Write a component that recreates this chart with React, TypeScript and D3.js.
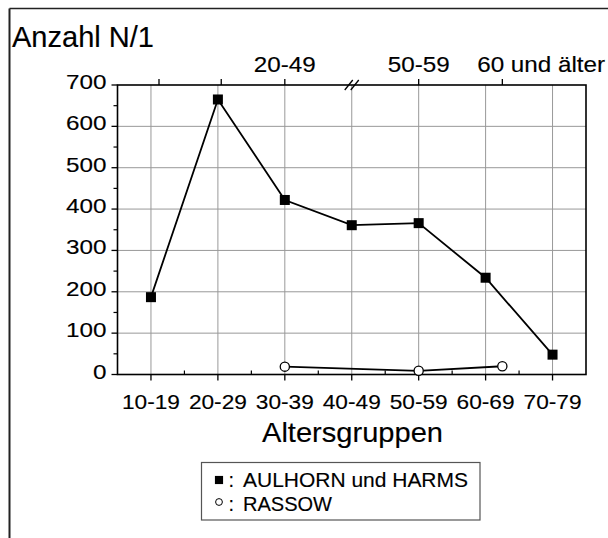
import * as d3 from "d3";

// Altersgruppen (untere Achse)
const categories = ["10-19", "20-29", "30-39", "40-49", "50-59", "60-69", "70-79"];
const aulhornHarms = [187, 665, 422, 361, 366, 234, 48];

// RASSOW liegt auf der oberen Achse (20-49, 50-59, 60 und älter)
const rassowAt = [2, 4, 5.25];
const rassowValues = [19, 9, 20];

const yTicks = [0, 100, 200, 300, 400, 500, 600, 700];
const yMinorTicks = [50, 150, 250, 350, 450, 550, 650];
const yGrid = [100, 200, 300, 400, 500, 600];

const topTicksAt = [0.12, 1.05, 2, 4, 5.25];
const topLabels = ["20-49", "50-59", "60 und älter"];
const topLabelsAt = [2, 4, 5.83];

const FONT = "'Liberation Sans', Arial, Helvetica, sans-serif";
const TEXT_STROKE = 0.15;

const App = () => {
  const left = 117.5;
  const right = 586;
  const top = 85;
  const bottom = 374.5;

  const x = d3.scaleLinear().domain([-0.5, 6.5]).range([left, right]);
  const y = d3.scaleLinear().domain([0, 700]).range([bottom, top]);

  const ahPoints = aulhornHarms.map((v, i) => [x(i), y(v)] as [number, number]);
  const raPoints = rassowValues.map((v, i) => [x(rassowAt[i]), y(v)] as [number, number]);
  const line = d3.line();

  const breakX = x(3);

  return (
    <svg
      width={608}
      height={538}
      style={{ position: "absolute", left: 0, top: 0, background: "#fff" }}
      fontFamily={FONT}
    >
      {/* outer frame (partly outside the picture) */}
      <line x1={9.5} y1={8.5} x2={608} y2={8.5} stroke="#222" strokeWidth={1.5} />
      <line x1={9.5} y1={8.5} x2={9.5} y2={538} stroke="#222" strokeWidth={2} />

      <text x={12} y={47} fontSize={30} textLength={142} lengthAdjust="spacingAndGlyphs" stroke="#000" strokeWidth={TEXT_STROKE}>
        Anzahl N/1
      </text>

      {/* grid */}
      {categories.map((c, i) => (
        <line key={"gx" + c} x1={x(i)} x2={x(i)} y1={top} y2={bottom} stroke="#999" strokeWidth={1} />
      ))}
      {yGrid.map((t) => (
        <line key={"gy" + t} x1={left} x2={right} y1={y(t)} y2={y(t)} stroke="#999" strokeWidth={1} />
      ))}

      {/* left axis */}
      {yTicks.map((t) => (
        <g key={"yt" + t}>
          <line x1={left - 6} x2={left} y1={y(t)} y2={y(t)} stroke="#000" strokeWidth={1.3} />
          <text
            x={106.5 - 13.5 * String(t).length}
            y={y(t) + 4}
            fontSize={21}
            textLength={13.5 * String(t).length}
            lengthAdjust="spacingAndGlyphs"
            stroke="#000"
            strokeWidth={TEXT_STROKE}
          >
            {t}
          </text>
        </g>
      ))}
      {yMinorTicks.map((t) => (
        <line key={"ym" + t} x1={left - 4} x2={left} y1={y(t)} y2={y(t)} stroke="#000" strokeWidth={1.2} />
      ))}

      {/* bottom axis */}
      {categories.map((c, i) => (
        <g key={"xt" + c}>
          <line x1={x(i)} x2={x(i)} y1={bottom} y2={bottom + 6} stroke="#000" strokeWidth={1.3} />
          <text
            x={x(i) - 29}
            y={409}
            fontSize={21}
            textLength={58}
            lengthAdjust="spacingAndGlyphs"
            stroke="#000"
            strokeWidth={TEXT_STROKE}
          >
            {c}
          </text>
        </g>
      ))}
      {categories.slice(0, -1).map((c, i) => (
        <line key={"xm" + c} x1={x(i + 0.5)} x2={x(i + 0.5)} y1={bottom - 4} y2={bottom} stroke="#000" strokeWidth={1.2} />
      ))}

      {/* top axis */}
      {topTicksAt.map((p) => (
        <line key={"tt" + p} x1={x(p)} x2={x(p)} y1={top - 6} y2={top} stroke="#000" strokeWidth={1.3} />
      ))}
      {topLabels.map((l, i) => {
        const w = l.length > 5 ? 128 : 62;
        return (
          <text
            key={"tl" + l}
            x={x(topLabelsAt[i]) - w / 2}
            y={72}
            fontSize={22}
            textLength={w}
            lengthAdjust="spacingAndGlyphs"
            stroke="#000"
            strokeWidth={TEXT_STROKE}
          >
            {l}
          </text>
        );
      })}

      {/* plot frame */}
      <rect x={left} y={top} width={right - left} height={bottom - top} fill="none" stroke="#000" strokeWidth={1.6} />

      {/* axis break // */}
      {[-3, 3].map((d) => (
        <line key={"br" + d} x1={breakX + d - 4} y1={top + 5} x2={breakX + d + 4} y2={top - 5} stroke="#000" strokeWidth={1.3} />
      ))}

      {/* AULHORN und HARMS */}
      <path d={line(ahPoints) ?? ""} fill="none" stroke="#000" strokeWidth={1.8} />
      {ahPoints.map(([px, py], i) => (
        <rect key={"ah" + i} x={px - 5} y={py - 5} width={10} height={10} fill="#000" />
      ))}

      {/* RASSOW */}
      <path d={line(raPoints) ?? ""} fill="none" stroke="#000" strokeWidth={1.8} />
      {raPoints.map(([px, py], i) => (
        <circle key={"ra" + i} cx={px} cy={py} r={4.6} fill="#fff" stroke="#000" strokeWidth={1.3} />
      ))}

      <text x={262} y={442} fontSize={28} textLength={181} lengthAdjust="spacingAndGlyphs" stroke="#000" strokeWidth={TEXT_STROKE}>
        Altersgruppen
      </text>

      {/* legend */}
      <rect x={201.5} y={462.5} width={278.5} height={57.5} fill="#fff" stroke="#555" strokeWidth={1.2} />
      <g stroke="#000" strokeWidth={TEXT_STROKE}>
        <rect x={215} y={476} width={8} height={8} fill="#000" />
        <text x={228.5} y={487} fontSize={20}>:</text>
        <text x={243} y={487} fontSize={20} textLength={225} lengthAdjust="spacingAndGlyphs">
          AULHORN und HARMS
        </text>
        <text x={228.5} y={511} fontSize={20}>:</text>
        <text x={243} y={511} fontSize={20} textLength={89} lengthAdjust="spacingAndGlyphs">
          RASSOW
        </text>
      </g>
      <circle cx={219} cy={502} r={3.4} fill="#fff" stroke="#000" strokeWidth={1} />
    </svg>
  );
};

export default App;
